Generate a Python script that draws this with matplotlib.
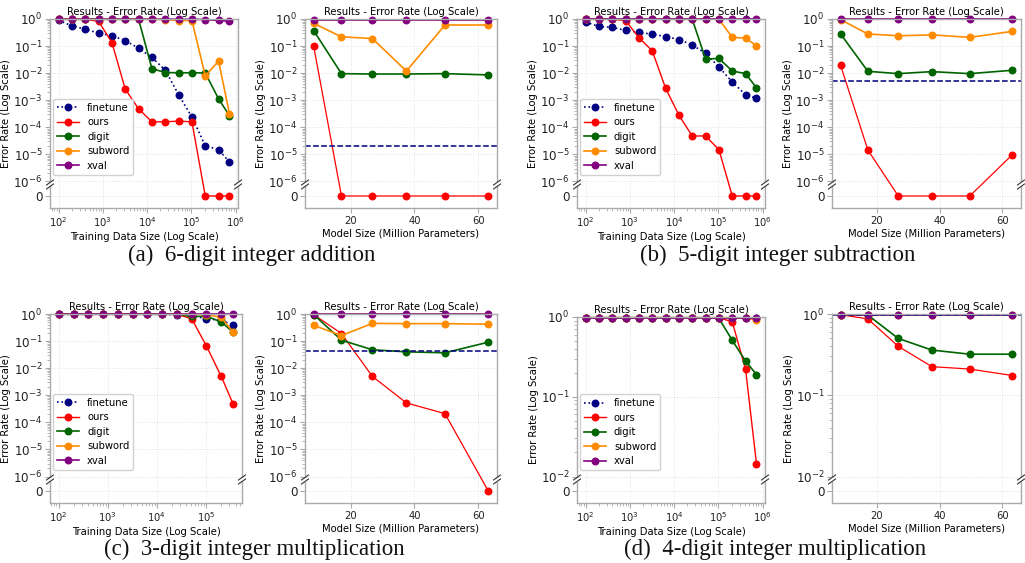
import numpy as np
import matplotlib
matplotlib.use("Agg")
import matplotlib.pyplot as plt
from matplotlib.lines import Line2D
from matplotlib.patches import Rectangle
from matplotlib.ticker import FixedLocator, FuncFormatter, NullFormatter

# ---------------- data ----------------
series_names = ["finetune", "ours", "digit", "subword", "xval"]
series_colors = ["#000080", "#ff0000", "#006400", "#ff8c00", "#800080"]

data_sizes = [100, 200, 400, 800, 1600, 3200, 6400, 12800, 25600, 51200,
              102400, 204800, 409600, 720000]
data_sizes_c = [100, 200, 400, 800, 1600, 3200, 6400, 12800, 25600, 51200,
                102400, 204800, 360000]
model_sizes = [8.4, 17.1, 26.8, 37.5, 49.6, 63.2]

# (a) 6-digit addition - data size
a_data_finetune = [0.89, 0.56, 0.42, 0.30, 0.24, 0.16, 0.083, 0.038, 0.013, 0.0016, 2.4e-4, 2.1e-5, 1.5e-5, 5.2e-6]
a_data_ours = [0.98, 0.98, 0.98, 0.82, 0.135, 0.0026, 4.8e-4, 1.6e-4, 1.6e-4, 1.7e-4, 1.6e-4, 0, 0, 0]
a_data_digit = [0.98, 0.98, 0.98, 0.98, 0.98, 0.98, 0.98, 0.0148, 0.0105, 0.0104, 0.0103, 0.0102, 0.00112, 2.7e-4]
a_data_subword = [0.98, 0.98, 0.98, 0.98, 0.98, 0.98, 0.98, 0.98, 0.95, 0.88, 0.88, 0.0079, 0.028, 3.2e-4]
a_data_xval = [0.98, 0.98, 0.98, 0.98, 0.98, 0.98, 0.98, 0.98, 0.98, 0.98, 0.98, 0.95, 0.89, 0.82]
# (a) model size
a_model_finetune_ref = 2e-5
a_model_ours = [0.097, 0, 0, 0, 0, 0]
a_model_digit = [0.37, 0.0096, 0.0093, 0.0093, 0.0096, 0.0086]
a_model_subword = [0.69, 0.22, 0.19, 0.012, 0.6, 0.6]
a_model_xval = [0.95, 0.95, 0.95, 0.95, 0.95, 0.95]

# (b) 5-digit subtraction - data size
b_data_finetune = [0.77, 0.53, 0.49, 0.38, 0.32, 0.275, 0.225, 0.174, 0.11, 0.054, 0.017, 0.0047, 0.0016, 0.00118]
b_data_ours = [0.98, 0.98, 0.98, 0.87, 0.206, 0.067, 0.0028, 2.8e-4, 4.8e-5, 4.8e-5, 1.5e-5, 0, 0, 0]
b_data_digit = [0.98, 0.98, 0.98, 0.98, 0.98, 0.98, 0.98, 0.98, 0.98, 0.033, 0.035, 0.012, 0.0096, 0.0029]
b_data_subword = [0.98, 0.98, 0.98, 0.98, 0.98, 0.98, 0.98, 0.98, 0.98, 0.98, 0.98, 0.21, 0.195, 0.104]
b_data_xval = [0.97, 0.97, 0.97, 0.97, 0.97, 0.97, 0.97, 0.97, 0.97, 0.97, 0.97, 0.97, 0.97, 0.97]
# (b) model size
b_model_finetune_ref = 0.005
b_model_ours = [0.0195, 1.45e-5, 0, 0, 0, 9.8e-6]
b_model_digit = [0.28, 0.0117, 0.0096, 0.0114, 0.0096, 0.0128]
b_model_subword = [0.95, 0.28, 0.24, 0.26, 0.21, 0.35]
b_model_xval = [0.97, 0.97, 0.97, 0.97, 0.97, 0.97]

# (c) 3-digit multiplication - data size
c_data_finetune = [0.98, 0.98, 0.98, 0.98, 0.98, 0.98, 0.98, 0.98, 0.93, 0.85, 0.68, 0.58, 0.40]
c_data_ours = [0.98, 0.98, 0.98, 0.98, 0.98, 0.98, 0.98, 0.98, 0.98, 0.67, 0.065, 0.005, 4.6e-4]
c_data_digit = [0.98, 0.98, 0.98, 0.98, 0.98, 0.98, 0.98, 0.98, 0.98, 0.82, 0.82, 0.51, 0.21]
c_data_subword = [0.98, 0.98, 0.98, 0.98, 0.98, 0.98, 0.98, 0.98, 0.98, 0.98, 0.95, 0.75, 0.21]
c_data_xval = [0.98, 0.98, 0.98, 0.98, 0.98, 0.98, 0.98, 0.98, 0.98, 0.98, 0.98, 0.98, 0.98]
# (c) model size
c_model_finetune_ref = 0.044
c_model_ours = [0.95, 0.19, 0.005, 5.2e-4, 2.1e-4, 0]
c_model_digit = [0.95, 0.108, 0.048, 0.040, 0.037, 0.091]
c_model_subword = [0.38, 0.16, 0.45, 0.44, 0.44, 0.42]
c_model_xval = [0.98, 0.98, 0.98, 0.98, 0.98, 0.98]

# (d) 4-digit multiplication - data size
d_data_finetune = [0.98, 0.98, 0.98, 0.98, 0.98, 0.98, 0.98, 0.98, 0.98, 0.98, 0.98, 0.98, 0.98, 0.98]
d_data_ours = [0.98, 0.98, 0.98, 0.98, 0.98, 0.98, 0.98, 0.98, 0.98, 0.98, 0.98, 0.87, 0.22, 0.0145]
d_data_digit = [0.98, 0.98, 0.98, 0.98, 0.98, 0.98, 0.98, 0.98, 0.98, 0.98, 0.96, 0.51, 0.28, 0.19]
d_data_subword = [0.98, 0.98, 0.98, 0.98, 0.98, 0.98, 0.98, 0.98, 0.98, 0.98, 0.98, 0.98, 0.97, 0.92]
d_data_xval = [0.97, 0.97, 0.97, 0.97, 0.97, 0.97, 0.97, 0.97, 0.97, 0.97, 0.97, 0.97, 0.97, 0.97]
# (d) model size
d_model_finetune_ref = 0.97
d_model_ours = [0.98, 0.87, 0.40, 0.225, 0.21, 0.175]
d_model_digit = [0.98, 0.97, 0.50, 0.36, 0.32, 0.32]
d_model_subword = [0.97, 0.97, 0.97, 0.97, 0.97, 0.97]
d_model_xval = [0.98, 0.98, 0.98, 0.98, 0.98, 0.98]

captions = ["(a)  6-digit integer addition", "(b)  5-digit integer subtraction",
            "(c)  3-digit integer multiplication", "(d)  4-digit integer multiplication"]
title_text = "Results - Error Rate (Log Scale)"
ylabel_text = "Error Rate (Log Scale)"
xlabel_data = "Training Data Size (Log Scale)"
xlabel_model = "Model Size (Million Parameters)"

# ---------------- figure ----------------
W, Hfig = 1025, 563
fig = plt.figure(figsize=(W / 100, Hfig / 100), dpi=100)
plt.rcParams["font.family"] = "DejaVu Sans"

FS = 7.2
YFS = 8.6
GRAY = "#aaaaaa"
GAP_PX, BELOW_PX = 14.5, 12.0


def add_ax(x0, x1, top, bottom):
    return fig.add_axes([x0 / W, 1 - bottom / Hfig, (x1 - x0) / W, (bottom - top) / Hfig])


def broken_log_y(ax, lo_exp, h_px, w_px):
    lo = 10.0 ** lo_exp
    D = -lo_exp
    Hl = h_px - GAP_PX - BELOW_PX
    ppd = Hl / D
    G = GAP_PX / ppd
    B = BELOW_PX / ppd
    L = np.log10(lo)

    def fwd(y):
        y = np.asarray(y, float)
        with np.errstate(all="ignore"):
            return np.where(y >= lo, np.log10(np.maximum(y, lo)) - L + G, y / lo * G)

    def inv(u):
        u = np.asarray(u, float)
        with np.errstate(all="ignore"):
            return np.where(u >= G, lo * 10.0 ** (np.minimum(u, 50) - G), u * lo / G)

    ax.set_yscale("function", functions=(fwd, inv))
    ax.set_ylim(-B * lo / G, 1.0)
    majors = [0.0] + [10.0 ** k for k in range(lo_exp, 1)]
    minors = [m * 10.0 ** k for k in range(lo_exp, 0) for m in range(2, 10)]
    ax.yaxis.set_major_locator(FixedLocator(majors))
    ax.yaxis.set_minor_locator(FixedLocator(minors))
    ax.yaxis.set_minor_formatter(NullFormatter())

    def fmt(v, pos):
        if v == 0:
            return "0"
        return r"$\mathdefault{10^{%d}}$" % int(round(np.log10(v)))

    ax.yaxis.set_major_formatter(FuncFormatter(fmt))

    # break marks
    frac = (BELOW_PX + GAP_PX) / h_px  # position of lo
    yc = frac - 3.0 / h_px
    for xs in (0.0, 1.0):
        ax.add_patch(Rectangle((xs - 2.0 / w_px, yc - 2.0 / h_px), 4.0 / w_px, 4.0 / h_px,
                               transform=ax.transAxes, facecolor="white", edgecolor="none",
                               clip_on=False, zorder=10))
        for y0 in (yc - 2.0 / h_px, yc + 2.0 / h_px):
            ax.add_line(Line2D([xs - 3.5 / w_px, xs + 3.5 / w_px],
                               [y0 - 2.5 / h_px, y0 + 2.5 / h_px],
                               transform=ax.transAxes, color="#333333", lw=0.8,
                               clip_on=False, zorder=11))


def style(ax, xlabel):
    for s in ax.spines.values():
        s.set_color(GRAY)
        s.set_linewidth(1.0)
    ax.tick_params(axis="both", which="major", color=GRAY, length=3.5, width=0.8,
                   labelcolor="#222222", pad=2)
    ax.tick_params(axis="both", which="minor", color=GRAY, length=2, width=0.6)
    ax.tick_params(axis="y", which="major", labelsize=YFS)
    ax.tick_params(axis="x", which="major", labelsize=FS)
    ax.grid(True, which="major", color="#dddddd", linestyle=":", linewidth=0.6)
    ax.set_axisbelow(True)
    ax.set_title(title_text, fontsize=FS, pad=3)
    ax.set_ylabel(ylabel_text, fontsize=FS, labelpad=1.5)
    ax.set_xlabel(xlabel, fontsize=FS, labelpad=2)


def plot_data(ax, x, ys, lo_exp, pos_px, legend=True):
    x0, x1, top, bottom = pos_px
    for name, color, y in zip(series_names, series_colors, ys):
        ls = ":" if name == "finetune" else "-"
        lw = 1.0 if name == "ours" else 1.2
        ax.plot(x, y, ls, color=color, lw=lw, marker="o", ms=4.7, label=name, clip_on=False)
    ax.set_xscale("log")
    broken_log_y(ax, lo_exp, bottom - top, x1 - x0)
    style(ax, xlabel_data)
    if legend:
        ax.legend(loc="lower left", bbox_to_anchor=(0.0, 0.16), borderaxespad=0.3,
                  fontsize=FS, frameon=True, edgecolor="#cccccc", framealpha=0.9,
                  handlelength=2.2, labelspacing=0.45, borderpad=0.4)


def plot_model(ax, x, ys, ref, lo_exp, pos_px):
    x0, x1, top, bottom = pos_px
    for name, color, y in zip(series_names[1:], series_colors[1:], ys):
        lw = 0.9 if name == "ours" else 1.2
        ax.plot(x, y, "-", color=color, lw=lw, marker="o", ms=4.7, label=name, clip_on=False)
    ax.axhline(ref, color=series_colors[0], ls="--", lw=1.1)
    ax.set_xticks([20, 40, 60])
    broken_log_y(ax, lo_exp, bottom - top, x1 - x0)
    style(ax, xlabel_model)


pos = {
    "a1": (50, 238, 19, 208), "a2": (305, 497, 19, 208),
    "b1": (577, 765, 19, 208), "b2": (832, 1021, 19, 208),
    "c1": (50, 242, 314, 503), "c2": (305, 497, 314, 503),
    "d1": (577, 765, 317, 503), "d2": (832, 1021, 314, 503),
}

ax = add_ax(*pos["a1"])
plot_data(ax, data_sizes, [a_data_finetune, a_data_ours, a_data_digit, a_data_subword, a_data_xval], -6, pos["a1"])
ax = add_ax(*pos["a2"])
plot_model(ax, model_sizes, [a_model_ours, a_model_digit, a_model_subword, a_model_xval], a_model_finetune_ref, -6, pos["a2"])
ax = add_ax(*pos["b1"])
plot_data(ax, data_sizes, [b_data_finetune, b_data_ours, b_data_digit, b_data_subword, b_data_xval], -6, pos["b1"])
ax = add_ax(*pos["b2"])
plot_model(ax, model_sizes, [b_model_ours, b_model_digit, b_model_subword, b_model_xval], b_model_finetune_ref, -6, pos["b2"])
ax = add_ax(*pos["c1"])
plot_data(ax, data_sizes_c, [c_data_finetune, c_data_ours, c_data_digit, c_data_subword, c_data_xval], -6, pos["c1"])
ax = add_ax(*pos["c2"])
plot_model(ax, model_sizes, [c_model_ours, c_model_digit, c_model_subword, c_model_xval], c_model_finetune_ref, -6, pos["c2"])
ax = add_ax(*pos["d1"])
plot_data(ax, data_sizes, [d_data_finetune, d_data_ours, d_data_digit, d_data_subword, d_data_xval], -2, pos["d1"])
ax = add_ax(*pos["d2"])
plot_model(ax, model_sizes, [d_model_ours, d_model_digit, d_model_subword, d_model_xval], d_model_finetune_ref, -2, pos["d2"])

cap_kw = dict(fontsize=16.5, family="Liberation Serif", ha="center", va="center", color="#111111")
fig.text(252 / W, 1 - 255 / Hfig, captions[0], **cap_kw)
fig.text(778 / W, 1 - 255 / Hfig, captions[1], **cap_kw)
fig.text(254 / W, 1 - 549 / Hfig, captions[2], **cap_kw)
fig.text(775 / W, 1 - 549 / Hfig, captions[3], **cap_kw)

fig.savefig("out.png", dpi=100)
